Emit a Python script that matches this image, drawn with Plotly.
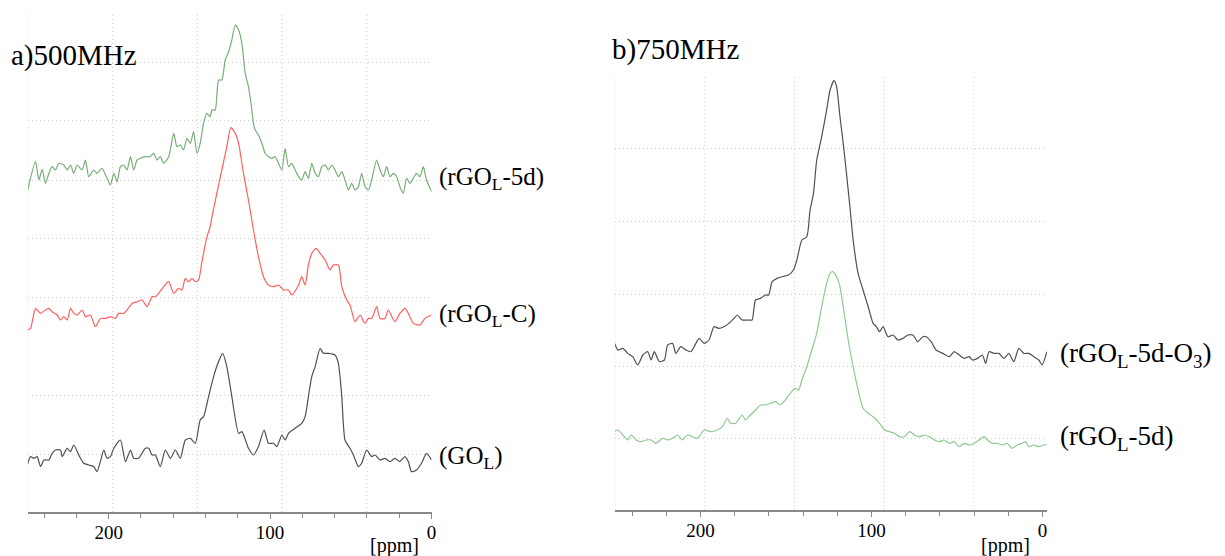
import plotly.graph_objects as go

# ---- a) 500 MHz spectra (intensity relative to each spectrum baseline, a.u.)
ppm_rgo5d_500 = [250.4, 245.3, 243.2, 241.2, 239.1, 237.0, 235.0, 232.9, 230.9, 227.8, 225.7, 223.6, 221.6, 219.5,
                 216.4, 214.4, 212.3, 209.2, 207.2, 204.1, 201.0, 198.9, 196.8, 194.8, 192.7, 190.7, 188.6, 186.5,
                 184.5, 182.4, 180.4, 177.3, 174.2, 172.1, 170.1, 168.0, 165.9, 162.8, 159.7, 157.7, 155.6, 153.6,
                 151.5, 149.4, 147.4, 145.3, 143.3, 141.2, 139.1, 137.1, 136.0, 134.0, 131.9, 129.9, 127.8, 125.7,
                 123.7, 121.6, 119.5, 117.5, 115.4, 113.4, 111.3, 110.3, 109.2, 107.2, 105.1, 103.1, 101.0, 98.9,
                 96.9, 94.8, 92.7, 90.7, 88.6, 86.6, 84.5, 82.4, 80.4, 78.3, 76.3, 74.2, 72.1, 70.1, 68.0, 65.9,
                 63.9, 61.8, 59.8, 57.7, 55.6, 53.6, 51.5, 49.5, 47.4, 45.3, 43.3, 41.2, 39.1, 37.1, 34.0, 31.9,
                 29.9, 27.8, 25.7, 23.7, 21.6, 19.6, 17.5, 15.4, 13.4, 11.3, 9.3, 7.2, 5.1, 3.1, 0.0]
int_rgo5d_500 = [-11.7, 18.3, 0, 10.7, -3.3, 6.7, 13.3, 10, 16.7, 15, 10, 15, 6.7, 15,
                 10, 20, 3.3, 10, 6.7, 11.7, 1.7, -5, 6.7, -1.7, 13.3, 15, 10, 23.3,
                 10, 20, 21.7, 23.3, 23.3, 26.7, 20, 23.3, 16.7, 23.3, 46.7, 33.3, 35, 30,
                 41.7, 36.7, 48.3, 26.7, 36.7, 56.7, 66.7, 63.3, 70, 70, 100, 100, 120, 128.3,
                 140, 155, 150, 136.7, 106.7, 93.3, 70, 56.7, 50, 45, 36.7, 26.7, 23.3, 21.7,
                 23.3, 16.7, 10, 31.7, 13.3, 16.7, 10, 3.3, 0, 8.3, 1.7, 16.7, 6.7, 3.3, 13.3, 15,
                 10, 15, 10, 3.3, 8.3, 0, -10, -3.3, -10, -6.7, 6.7, -6.7, -10, 0, 20, 10,
                 3.3, 13.3, 3.3, 6.7, 3.3, -6.7, -13.3, 1.7, -3.3, 1.7, 6.7, 3.3, 13.3, 0, -11.7]

ppm_rgoc_500 = [250.4, 248.4, 245.3, 242.2, 239.1, 237.0, 235.0, 231.9, 229.8, 227.8, 225.7, 223.6, 221.6, 219.5,
                216.4, 214.4, 211.3, 208.2, 205.1, 202.0, 198.9, 195.8, 193.8, 190.7, 188.6, 185.5, 182.4, 179.3,
                176.2, 173.1, 171.1, 169.0, 165.9, 162.8, 159.7, 156.7, 154.6, 152.5, 150.5, 148.4, 146.3, 144.3,
                142.2, 140.2, 139.1, 137.1, 136.0, 133.0, 129.9, 126.8, 124.3, 121.6, 119.5, 116.5, 113.4, 110.3,
                107.2, 104.1, 101.0, 97.9, 94.8, 91.7, 88.6, 86.6, 82.4, 80.4, 78.3, 76.3, 74.2, 71.5, 69.0, 65.9,
                62.9, 60.8, 57.7, 55.6, 52.5, 50.5, 47.4, 44.3, 41.2, 39.1, 37.1, 34.0, 31.9, 28.8, 26.8, 22.7,
                19.6, 16.5, 14.4, 11.3, 7.2, 4.1, 0.0]
int_rgoc_500 = [-13.3, -11.7, 8.3, 3.3, 6.7, 8.3, 5, 1.7, -3.3, 0, -3.3, 8.3, 3.3, 1.7,
                6.7, 0, 1.7, -10, -1.7, -1.7, 0, -1.7, 3.3, 3.3, 6.7, 13.3, 15, 16.7,
                10, 20, 20, 23.3, 30, 35, 23.3, 28.3, 26.7, 38.3, 35, 38.3, 35, 36.7,
                55, 72, 80, 90, 100, 123.3, 146.7, 170, 189, 183.3, 173.3, 143.3, 116.7, 86.7,
                60, 40, 31.7, 30, 31.7, 26.7, 26.7, 21.7, 31.7, 40, 31.7, 51.7, 63.3, 68.3, 63.3, 56.7,
                46.7, 51.7, 51.7, 30, 16.7, 11.7, -5, 1.7, -6.7, -1.7, -1.7, 10, -1.7, -1.7, 6.7, -5,
                3.3, 8.3, 3.3, -6.7, -8.3, -1.7, 1.7]

ppm_go_500 = [250.4, 248.4, 246.3, 244.3, 242.2, 240.1, 237.0, 235.0, 232.9, 229.8, 228.8, 225.7, 223.6, 221.6,
              218.5, 215.4, 212.3, 209.2, 207.2, 205.1, 203.0, 201.0, 198.9, 196.8, 192.7, 189.6, 186.5, 184.5,
              181.4, 177.3, 175.2, 173.1, 171.1, 168.0, 164.9, 161.8, 158.7, 155.6, 152.5, 149.4, 146.3, 143.3,
              141.2, 138.1, 135.0, 131.9, 129.4, 126.8, 123.7, 119.5, 117.5, 113.4, 110.3, 107.2, 103.7, 101.0,
              97.9, 95.8, 92.7, 90.7, 88.6, 84.5, 80.4, 78.3, 76.3, 74.2, 72.1, 69.0, 67.0, 63.9, 59.8, 57.7,
              55.6, 53.6, 50.5, 48.4, 45.3, 43.3, 40.2, 37.1, 35.0, 31.9, 28.8, 25.7, 22.7, 19.6, 16.5, 14.4,
              12.4, 9.3, 6.2, 3.1, 0.0]
int_go_500 = [-6.7, 1.7, 0, 1.7, -8.3, -1.7, -1.7, 5, 8.3, 8.3, 1.7, 10, 6.7, 13.3,
              3.3, -5, -6.7, -8.3, -13.3, -3.3, 8.3, 0, 1.7, 10, 18.3, -3.3, 8.3, 0,
              0, 10, 10, 3.3, 3.3, -8.3, 8.3, 0, 8.3, 0, 18.3, 20, 15, 38.3,
              41.7, 61.7, 81.7, 96.7, 105, 91.7, 61.7, 25, 26.7, 10, 3.3, 11.7, 28.3, 15,
              15, 11.7, 23.3, 18.3, 25, 30, 35, 41.7, 61.7, 81.7, 91.7, 110, 105, 105, 103.3, 95,
              61.7, 18.3, 10, 3.3, -8.3, -5, 8.3, 1.7, 3.3, -1.7, 0, -3.3, 0, -3.3, 1.7, -3.3,
              -13.3, -11.7, -5, 5, -1.7]

# ---- b) 750 MHz spectra
ppm_o3_750 = [250.2, 248.3, 245.4, 242.5, 239.6, 236.7, 233.7, 230.8, 228.9, 227.0, 224.0, 221.1, 219.2, 216.3,
              214.4, 211.5, 208.5, 205.6, 203.7, 200.8, 197.9, 195.0, 192.1, 189.2, 186.3, 183.4, 180.4, 178.5,
              175.6, 171.7, 169.8, 167.8, 164.9, 162.0, 160.1, 158.1, 155.2, 152.3, 148.5, 145.6, 143.6, 140.7,
              137.8, 135.9, 133.9, 132.0, 129.1, 126.2, 124.2, 121.9, 120.4, 118.4, 116.5, 114.6, 112.6, 110.7,
              107.8, 104.9, 101.9, 99.0, 97.1, 95.2, 93.2, 90.3, 87.4, 84.5, 81.6, 78.7, 75.8, 72.9, 69.9, 68.0,
              65.1, 62.2, 58.3, 54.5, 51.6, 48.7, 45.8, 42.8, 40.9, 38.0, 35.1, 33.2, 31.2, 28.3, 25.4, 22.5,
              19.6, 16.7, 13.8, 10.9, 7.9, 5.0, 2.1, 0.2, -2.7]
int_o3_750 = [13.3, 6.7, 8.3, 3.3, 0, -8.3, 1.7, 5, -3.3, 5, -5, -3.3, 11.7, 13.3,
              3.3, 10, 6.7, 5, 10, 18.3, 13.3, 16.7, 30, 28.3, 30, 33.3, 38.3, 41.7,
              36.7, 36.7, 36.7, 56.7, 58.3, 61.7, 61.7, 75, 78.3, 80, 81.7, 86.7, 96.7, 116.7,
              120, 146.7, 163.3, 196.7, 220, 246.7, 266.7, 276, 270, 240, 213.3, 183.3, 150, 116.7,
              83.3, 66.7, 50, 33.3, 30, 25, 30, 20, 21.7, 16.7, 18.3, 21.7, 21.7, 15, 20, 20,
              15, 6.7, 3.3, 0, 5, 1.7, -1.7, 0, -3.3, -1.7, 1.7, -6.7, 5, 3.3, 3.3, -1.7,
              3.3, -5, 8.3, 3.3, 3.3, 0, -3.3, -8.3, 5]

ppm_rgo5d_750 = [250.2, 248.3, 245.4, 242.5, 240.5, 237.6, 234.7, 231.8, 228.9, 226.0, 222.1, 219.2, 216.3, 213.4,
                 210.5, 207.6, 204.7, 201.8, 197.9, 194.0, 190.1, 187.2, 184.3, 182.4, 179.5, 175.6, 173.7, 170.8,
                 167.8, 164.9, 162.0, 159.1, 156.2, 153.3, 150.4, 147.5, 144.6, 142.6, 140.7, 137.8, 134.9, 132.0,
                 129.1, 126.2, 124.2, 122.7, 120.4, 118.4, 116.5, 113.6, 110.7, 107.8, 104.9, 101.9, 99.0, 95.2,
                 92.3, 89.4, 86.5, 83.5, 80.6, 77.7, 74.8, 71.9, 69.0, 66.1, 63.2, 60.3, 57.4, 54.4, 51.6, 48.7,
                 45.8, 42.8, 39.9, 37.0, 34.1, 32.2, 29.3, 26.4, 23.5, 20.6, 17.7, 14.7, 11.8, 9.9, 8.0, 5.1,
                 2.1, -0.8, -2.7]
int_rgo5d_750 = [8.3, 10, 5, 0, 5, 0, -1.7, 0, 0, -3.3, 1.7, 0, 1.7, 5,
                 0, 5, 3.3, 1.7, 10, 8.3, 10, 13.3, 21.7, 16.7, 16.7, 25, 20, 25,
                 30, 35, 35, 36.7, 38.3, 35, 40, 46.7, 51.7, 50, 60, 73.3, 90, 106.7,
                 133.3, 156.7, 166.7, 168.3, 163.3, 153.3, 133.3, 100, 73.3, 50, 31.7, 26.7, 23.3, 16.7,
                 10, 8.3, 6.7, 3.3, 3.3, 8.3, 5, 3.3, 5, 3.3, 0, -1.7, 0, -3.3, -1.7, -6.7,
                 -3.3, -5, -3.3, 0, 3.3, 0, -3.3, -3.3, -5, -3.3, -8.3, -5, -3.3, -1.7, -6.7, -5,
                 -6.7, -5, -5]

# stacking offsets (a.u.)
offset_a = {"rgo5d": 332, "rgoc": 195.3, "go": 53.7}
offset_b = {"o3": 153.3, "rgo5d": 70}

grid_ppm = [250, 197.5, 145, 92.5, 40]
grid_a = [58, 117, 215, 274, 332, 392, 450]
grid_b = [72, 144, 216, 289, 362, 436]

SERIF = "Liberation Serif, Times New Roman, serif"
GREEN = "rgb(120,172,120)"
GREEN_B = "rgb(145,200,145)"
RED = "rgb(255,95,95)"
GRAY = "rgb(80,80,80)"
GRIDC = "#cdcdcd"

# the page puts the plot 8px in from the top-left corner
PAD = 8
W, H = 1225 - PAD, 556 - PAD


def px(x):
    return (x - PAD) / W


def py(y):
    return 1 - (y - PAD) / H


fig = go.Figure()

line_kw = dict(shape="spline", smoothing=0.6, width=1.2)
fig.add_trace(go.Scatter(x=ppm_rgo5d_500, y=[v + offset_a["rgo5d"] for v in int_rgo5d_500],
                         mode="lines", line=dict(color=GREEN, **line_kw), xaxis="x", yaxis="y"))
fig.add_trace(go.Scatter(x=ppm_rgoc_500, y=[v + offset_a["rgoc"] for v in int_rgoc_500],
                         mode="lines", line=dict(color=RED, **line_kw), xaxis="x", yaxis="y"))
fig.add_trace(go.Scatter(x=ppm_go_500, y=[v + offset_a["go"] for v in int_go_500],
                         mode="lines", line=dict(color=GRAY, **line_kw), xaxis="x", yaxis="y"))
fig.add_trace(go.Scatter(x=ppm_o3_750, y=[v + offset_b["o3"] for v in int_o3_750],
                         mode="lines", line=dict(color=GRAY, **line_kw), xaxis="x2", yaxis="y2"))
fig.add_trace(go.Scatter(x=ppm_rgo5d_750, y=[v + offset_b["rgo5d"] for v in int_rgo5d_750],
                         mode="lines", line=dict(color=GREEN_B, **line_kw), xaxis="x2", yaxis="y2"))

xcommon = dict(
    tickvals=[200, 100, 0], ticktext=["200", "100", "0"],
    ticks="outside", ticklen=5, tickcolor="#888", tickwidth=1,
    minor=dict(dtick=20, tick0=0, ticks="outside", ticklen=4, tickcolor="#888", showgrid=False),
    showline=True, linecolor="#888", linewidth=1.5,
    showgrid=False, zeroline=False,
    ticklabelstandoff=-3,
    tickfont=dict(family=SERIF, size=19, color="black"),
)
ycommon = dict(showline=False, zeroline=False, showticklabels=False, ticks="",
               showgrid=True, gridcolor=GRIDC, griddash="1px,3px", gridwidth=1)

fig.update_layout(
    width=W, height=H,
    margin=dict(l=0, r=0, t=0, b=0),
    paper_bgcolor="white", plot_bgcolor="white",
    showlegend=False,
    xaxis=dict(domain=[px(28), px(433.3)], range=[250, 0], anchor="y", **xcommon),
    yaxis=dict(domain=[py(512), py(13)], range=[0, 499], anchor="x",
               tickvals=grid_a, **ycommon),
    xaxis2=dict(domain=[px(617.5), px(1051.3)], range=[250, -2.7], anchor="y2", **xcommon),
    yaxis2=dict(domain=[py(510), py(74)], range=[0, 436], anchor="x2",
                tickvals=grid_b, **ycommon),
)

# vertical dotted grid lines
for xa, ya in (("x", "y"), ("x2", "y2")):
    for g in grid_ppm:
        fig.add_shape(type="line", xref=xa, yref=ya + " domain", x0=g, x1=g, y0=0, y1=1,
                      line=dict(color=GRIDC, width=1, dash="1px,3px"), layer="below")

# panel titles
fig.add_annotation(text="a)500MHz", xref="paper", yref="paper", x=px(9), y=py(55),
                   xanchor="left", yanchor="middle", showarrow=False,
                   font=dict(family=SERIF, size=29, color="black"))
fig.add_annotation(text="b)750MHz", xref="paper", yref="paper", x=px(612), y=py(50),
                   xanchor="left", yanchor="middle", showarrow=False,
                   font=dict(family=SERIF, size=29, color="black"))

# spectrum labels
labels_a = [("(rGO<sub>L</sub>-5d)", offset_a["rgo5d"]),
            ("(rGO<sub>L</sub>-C)", offset_a["rgoc"]),
            ("(GO<sub>L</sub>)", offset_a["go"])]
for txt, yv in labels_a:
    fig.add_annotation(text=txt, xref="x domain", yref="y", x=1, y=yv, xanchor="left", yanchor="middle",
                       xshift=5, yshift=1, showarrow=False,
                       font=dict(family=SERIF, size=25, color="black"))

labels_b = [("(rGO<sub>L</sub>-5d-O<sub>3</sub>)", offset_b["o3"]),
            ("(rGO<sub>L</sub>-5d)", offset_b["rgo5d"])]
for txt, yv in labels_b:
    fig.add_annotation(text=txt, xref="x2 domain", yref="y2", x=1, y=yv, xanchor="left", yanchor="middle",
                       xshift=11, yshift=2, showarrow=False,
                       font=dict(family=SERIF, size=27, color="black"))

# axis unit labels
for xpos in (396, 1010):
    fig.add_annotation(text="[ppm]", xref="paper", yref="paper", x=px(xpos), y=py(545),
                       xanchor="center", yanchor="middle", showarrow=False,
                       font=dict(family=SERIF, size=20, color="black"))

fig.write_html("out.html")
